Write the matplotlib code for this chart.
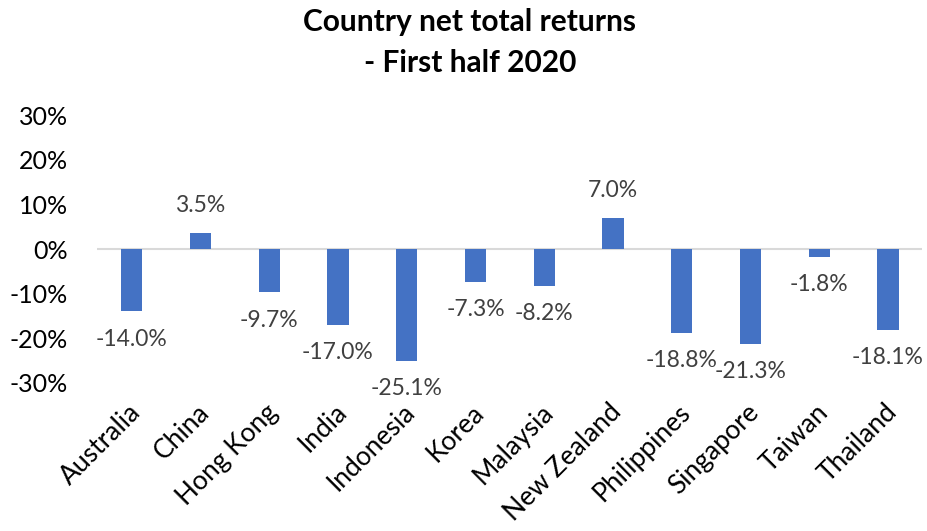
import numpy as np
import matplotlib.pyplot as plt
import matplotlib.transforms as mtransforms
from matplotlib.ticker import FuncFormatter

plt.rcParams['font.family'] = ['Lato', 'DejaVu Sans']

# Country net total returns, first half 2020 (%)
countries = ['Australia', 'China', 'Hong Kong', 'India', 'Indonesia', 'Korea',
             'Malaysia', 'New Zealand', 'Philippines', 'Singapore', 'Taiwan', 'Thailand']
returns = [-14.0, 3.5, -9.7, -17.0, -25.1, -7.3, -8.2, 7.0, -18.8, -21.3, -1.8, -18.1]

fig = plt.figure(figsize=(9.27, 5.31), dpi=100)
ax = fig.add_axes([0.105, 0.279, 0.89, 0.504])

x = np.arange(len(countries))
ax.bar(x, returns, width=0.31, color='#4472C4', zorder=2)
ax.axhline(0, color='#D9D9D9', linewidth=1.5, zorder=1)

# data labels, centred ~20pt off the bar end
for xi, v in zip(x, returns):
    off = 20 if v >= 0 else -20
    ax.annotate(f'{v:.1f}%', (xi, v), xytext=(0, off), textcoords='offset points',
                ha='center', va='center', fontsize=16.5, color='#404040')

ax.set_xlim(-0.5, len(countries) - 0.5)
ax.set_ylim(-30, 30)
ax.set_yticks(np.arange(-30, 31, 10))
ax.yaxis.set_major_formatter(FuncFormatter(lambda v, p: f'{v:.0f}%'))
ax.set_xticks(x)
ax.set_xticklabels(countries, rotation=45, ha='right', rotation_mode='anchor')
ax.tick_params(axis='y', length=0, labelsize=18, pad=21)
ax.tick_params(axis='x', length=0, labelsize=19, pad=12)
shift = mtransforms.ScaledTranslation(-4 / 100, 0, fig.dpi_scale_trans)
for lbl in ax.get_xticklabels():
    lbl.set_transform(lbl.get_transform() + shift)
for s in ax.spines.values():
    s.set_visible(False)

fig.suptitle('Country net total returns\n- First half 2020', x=0.507, y=0.985,
             fontsize=21.5, fontweight='bold', linespacing=1.55)

fig.savefig('out.png', dpi=100)
